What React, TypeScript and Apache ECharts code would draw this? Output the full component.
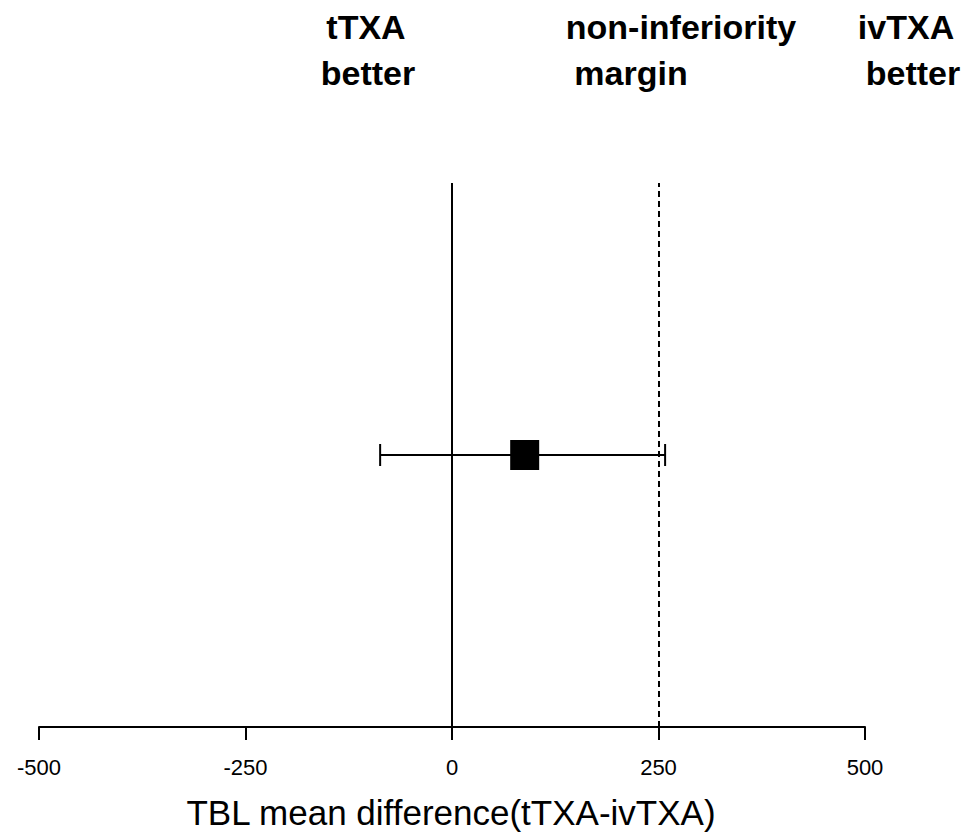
import React, { useEffect, useRef } from "react";
import * as echarts from "echarts";

const xTicks = [-500, -250, 0, 250, 500];
const pointEstimate = [88];
const ciLower = [-87];
const ciUpper = [258];
const rowPosition = [0.5];
const referenceLine = [0];
const marginLine = [250];
const axisTitle = "TBL mean difference(tTXA-ivTXA)";

const FONT = "'Liberation Sans', Arial, sans-serif";

export default function App() {
  const ref = useRef<HTMLDivElement>(null);
  useEffect(() => {
    document.body.style.margin = "0";
    const chart = echarts.init(ref.current!, null, { renderer: "svg" });
    const ciData = ciLower.map((lo, i) => [lo, ciUpper[i], rowPosition[i]]);
    const ptData = pointEstimate.map((v, i) => [v, rowPosition[i]]);
    const headerStyle = { fontFamily: FONT, fontSize: 34, fontWeight: "bold", fill: "#000", textAlign: "center", textVerticalAlign: "middle" };
    chart.setOption({
      animation: false,
      backgroundColor: "#fff",
      grid: { left: 39, right: 115, top: 183, bottom: 106 },
      xAxis: {
        type: "value",
        min: xTicks[0],
        max: xTicks[xTicks.length - 1],
        interval: 250,
        splitLine: { show: false },
        axisLine: { show: true, lineStyle: { color: "#000", width: 2 } },
        axisTick: { show: true, length: 13, lineStyle: { color: "#000", width: 2 } },
        axisLabel: { margin: 29, fontFamily: FONT, fontSize: 22, color: "#000" },
      },
      yAxis: { type: "value", min: 0, max: 1, show: false },
      graphic: [
        { type: "text", x: 366, y: 27, style: { ...headerStyle, text: "tTXA" } },
        { type: "text", x: 368, y: 73, style: { ...headerStyle, text: "better" } },
        { type: "text", x: 681, y: 27, style: { ...headerStyle, text: "non-inferiority" } },
        { type: "text", x: 631, y: 73, style: { ...headerStyle, text: "margin" } },
        { type: "text", x: 906, y: 27, style: { ...headerStyle, text: "ivTXA" } },
        { type: "text", x: 913, y: 73, style: { ...headerStyle, text: "better" } },
        {
          type: "text", x: 451, y: 812,
          style: { text: axisTitle, fontFamily: FONT, fontSize: 35, fill: "#000", textAlign: "center", textVerticalAlign: "middle" },
        },
      ],
      series: [
        {
          type: "custom",
          data: ciData,
          z: 3,
          renderItem: (params: any, api: any) => {
            const y = api.value(2);
            const a = api.coord([api.value(0), y]);
            const b = api.coord([api.value(1), y]);
            const h = 11;
            const st = { stroke: "#000", lineWidth: 2 };
            return {
              type: "group",
              children: [
                { type: "line", shape: { x1: a[0], y1: a[1], x2: b[0], y2: b[1] }, style: st },
                { type: "line", shape: { x1: a[0], y1: a[1] - h, x2: a[0], y2: a[1] + h }, style: st },
                { type: "line", shape: { x1: b[0], y1: b[1] - h, x2: b[0], y2: b[1] + h }, style: st },
              ],
            };
          },
        },
        {
          type: "scatter",
          data: ptData,
          symbol: "rect",
          symbolSize: [29, 30],
          itemStyle: { color: "#000", opacity: 1 },
          z: 5,
          markLine: {
            silent: true,
            symbol: "none",
            label: { show: false },
            data: [
              { xAxis: referenceLine[0], lineStyle: { color: "#000", width: 2, type: "solid" } },
              { xAxis: marginLine[0], lineStyle: { color: "#000", width: 2, type: [6, 4] } },
            ],
          },
        },
      ],
    });
    return () => chart.dispose();
  }, []);
  return <div ref={ref} style={{ width: 980, height: 833 }} />;
}
